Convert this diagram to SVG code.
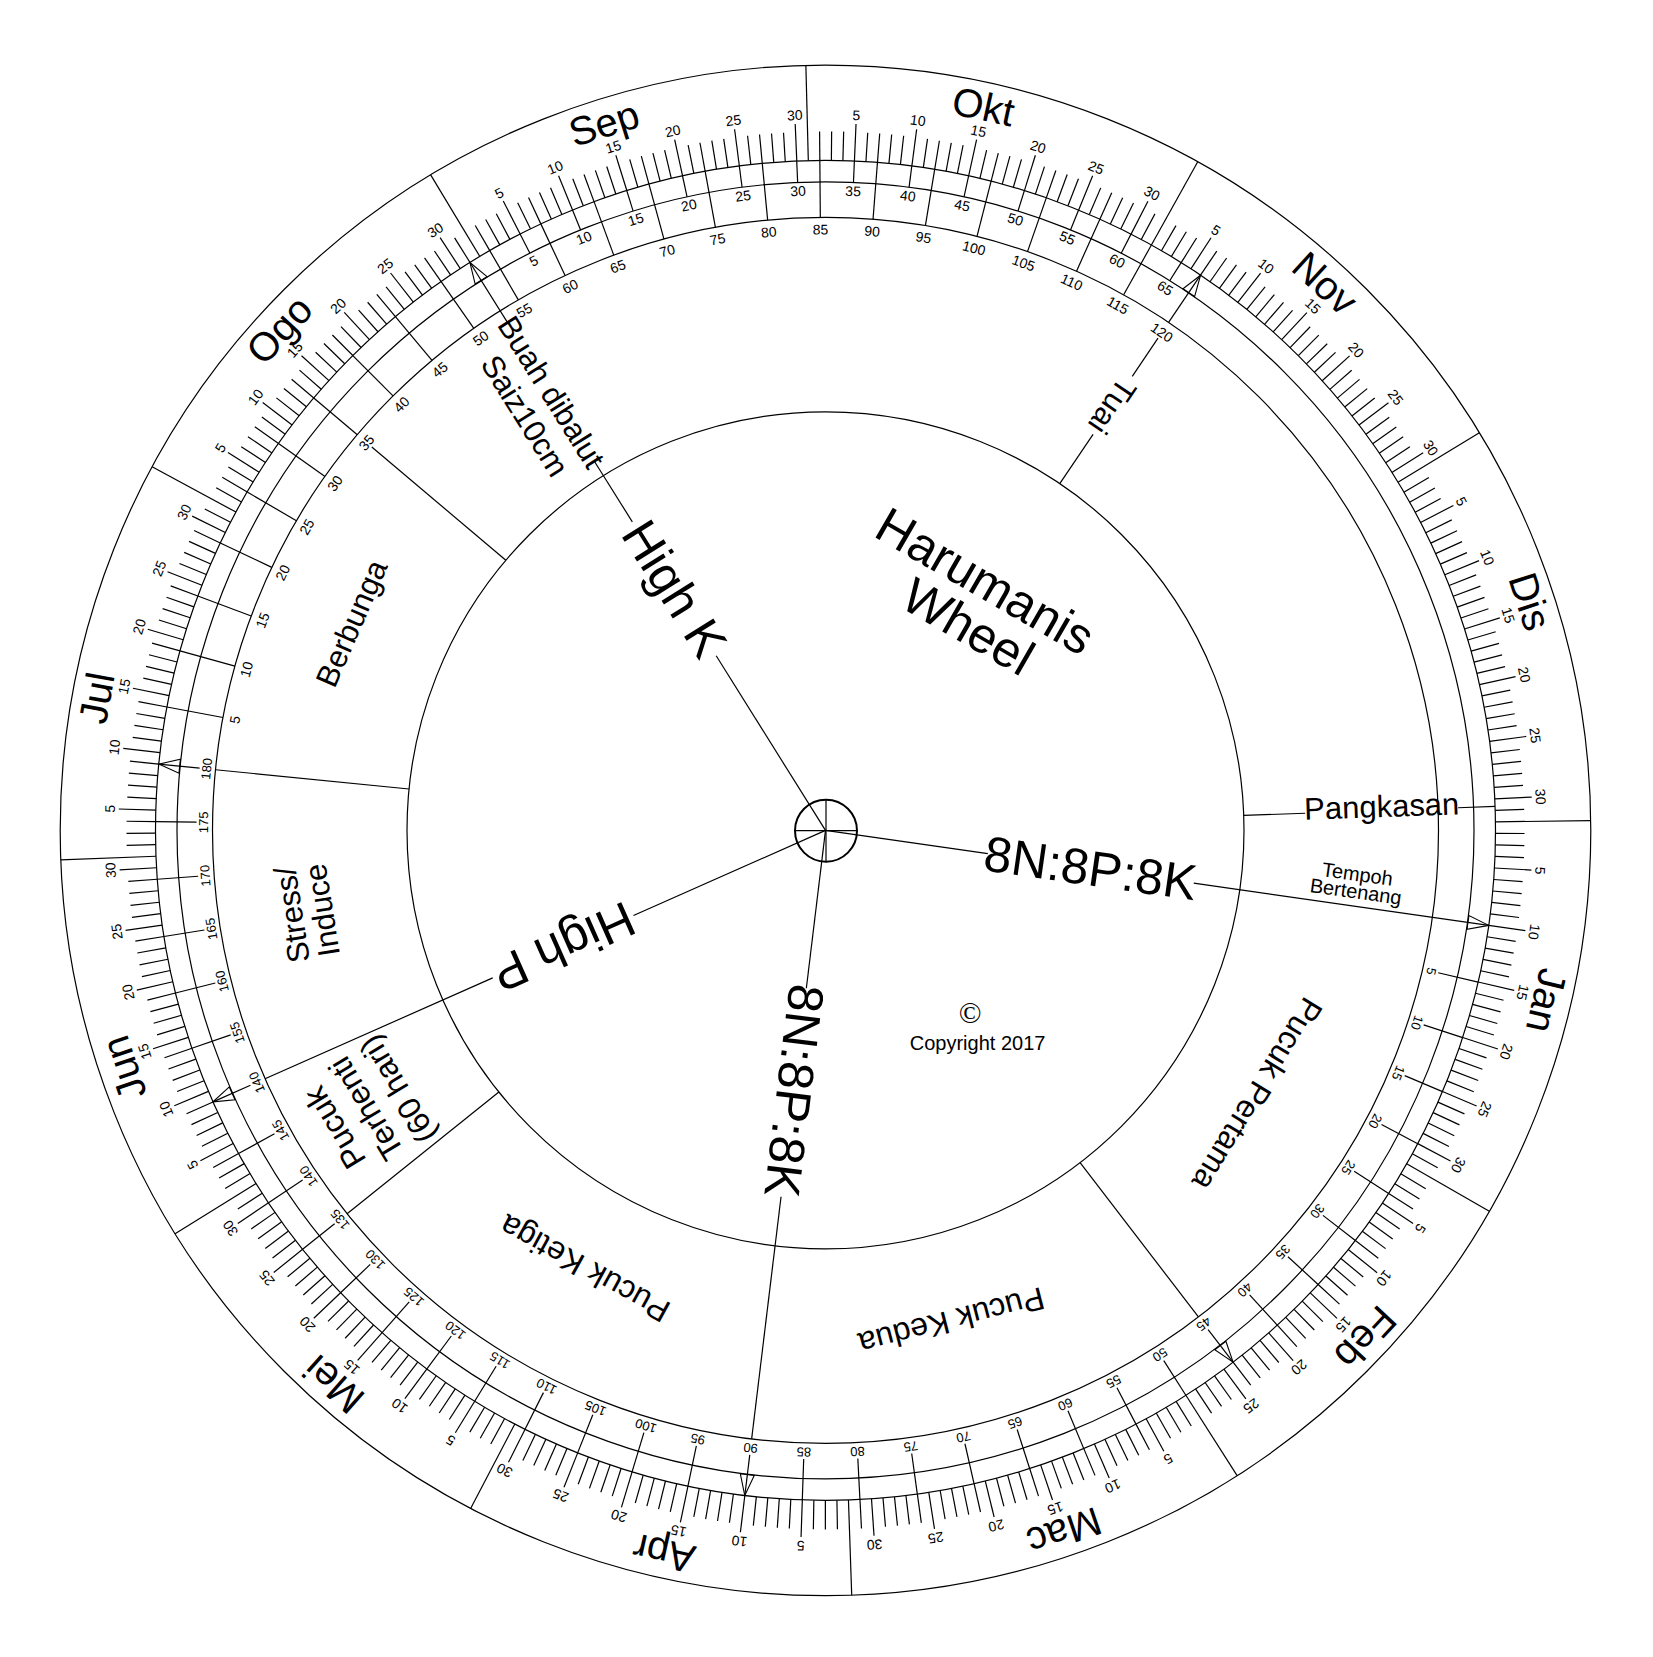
<svg xmlns="http://www.w3.org/2000/svg" width="1653" height="1657" viewBox="0 0 1653 1657">
<style>
.l{stroke:#000;stroke-width:1.2;fill:none}
.a{fill:none;stroke:#000;stroke-width:1.1}
text{font-family:"Liberation Sans",Arial,sans-serif;fill:#000;text-anchor:middle;dominant-baseline:central}
.n{font-size:14px}
.d{font-size:13px}
.m{font-size:40px}
.s{font-size:31px}
.p{font-size:32px}
.b{font-size:50px}
.tb{font-size:20px}
</style>
<defs>
<line id="t" class="l" x1="0" y1="-670" x2="0" y2="-699"/>
<line id="T" class="l" x1="0" y1="-670" x2="0" y2="-707"/>
<line id="mb" class="l" x1="0" y1="-670" x2="0" y2="-765.3"/>
<line id="bl" class="l" x1="0" y1="-648.5" x2="0" y2="-670"/>
<line id="cl" class="l" x1="0" y1="-613" x2="0" y2="-670"/>
<line id="dl" class="l" x1="0" y1="-629" x2="0" y2="-670"/>
<path id="ar" class="a" d="M0,-670 L-7,-649 L7,-649 Z"/>
<g id="m28">
<use href="#mb"/>
<use href="#t" transform="rotate(0.986)"/>
<use href="#t" transform="rotate(1.973)"/>
<use href="#t" transform="rotate(2.959)"/>
<g transform="rotate(3.945)"><use href="#T"/><text class="n" y="-716">5</text></g>
<use href="#t" transform="rotate(4.932)"/>
<use href="#t" transform="rotate(5.918)"/>
<use href="#t" transform="rotate(6.904)"/>
<use href="#t" transform="rotate(7.890)"/>
<g transform="rotate(8.877)"><use href="#T"/><text class="n" y="-716">10</text></g>
<use href="#t" transform="rotate(9.863)"/>
<use href="#t" transform="rotate(10.849)"/>
<use href="#t" transform="rotate(11.836)"/>
<use href="#t" transform="rotate(12.822)"/>
<g transform="rotate(13.808)"><use href="#T"/><text class="n" y="-716">15</text></g>
<use href="#t" transform="rotate(14.795)"/>
<use href="#t" transform="rotate(15.781)"/>
<use href="#t" transform="rotate(16.767)"/>
<use href="#t" transform="rotate(17.753)"/>
<g transform="rotate(18.740)"><use href="#T"/><text class="n" y="-716">20</text></g>
<use href="#t" transform="rotate(19.726)"/>
<use href="#t" transform="rotate(20.712)"/>
<use href="#t" transform="rotate(21.699)"/>
<use href="#t" transform="rotate(22.685)"/>
<g transform="rotate(23.671)"><use href="#T"/><text class="n" y="-716">25</text></g>
<use href="#t" transform="rotate(24.658)"/>
<use href="#t" transform="rotate(25.644)"/>
<use href="#t" transform="rotate(26.630)"/>
</g>
<g id="m30">
<use href="#m28"/>
<use href="#t" transform="rotate(27.616)"/>
<g transform="rotate(28.603)"><use href="#T"/><text class="n" y="-716">30</text></g>
</g>
<g id="m31">
<use href="#m30"/>
<use href="#t" transform="rotate(29.589)"/>
</g>
</defs>
<rect width="1653" height="1657" fill="#fff"/>
<g id="wheel" transform="translate(825.5 830.4)">
<g id="rings">
<circle class="l" r="765.3"/>
<circle class="l" r="670"/>
<circle class="l" r="648.5"/>
<circle class="l" r="613"/>
<circle class="l" r="418.5"/>
</g>
<g id="calendar">
<use href="#m31" transform="rotate(-1.47)"/>
<use href="#m30" transform="rotate(29.105)"/>
<use href="#m31" transform="rotate(58.694)"/>
<use href="#m31" transform="rotate(89.27)"/>
<use href="#m28" transform="rotate(119.845)"/>
<use href="#m31" transform="rotate(147.461)"/>
<use href="#m30" transform="rotate(178.037)"/>
<use href="#m31" transform="rotate(207.626)"/>
<use href="#m30" transform="rotate(238.201)"/>
<use href="#m31" transform="rotate(267.79)"/>
<use href="#m31" transform="rotate(298.366)"/>
<use href="#m30" transform="rotate(328.941)"/>
</g>
<g id="months">
<text class="m" transform="rotate(12.3)" y="-741">Okt</text>
<text class="m" transform="rotate(42.4)" y="-741">Nov</text>
<text class="m" transform="rotate(72.0)" y="-741">Dis</text>
<text class="m" transform="rotate(103.3)" y="-741">Jan</text>
<text class="m" transform="rotate(133.2)" y="-741">Feb</text>
<text class="m" transform="rotate(161.2)" y="-741">Mac</text>
<text class="m" transform="rotate(192.6)" y="-741">Apr</text>
<text class="m" transform="rotate(221.6)" y="-741">Mei</text>
<text class="m" transform="rotate(251.3)" y="-741">Jun</text>
<text class="m" transform="rotate(280.3)" y="-741">Jul</text>
<text class="m" transform="rotate(312.5)" y="-741">Ogo</text>
<text class="m" transform="rotate(342.6)" y="-741">Sep</text>
</g>
<g id="scaleB" transform="rotate(-32.05)">
<g transform="rotate(4.932)"><use href="#bl"/><text class="n" y="-640">5</text></g>
<g transform="rotate(9.863)"><use href="#bl"/><text class="n" y="-640">10</text></g>
<g transform="rotate(14.795)"><use href="#bl"/><text class="n" y="-640">15</text></g>
<g transform="rotate(19.726)"><use href="#bl"/><text class="n" y="-640">20</text></g>
<g transform="rotate(24.658)"><use href="#bl"/><text class="n" y="-640">25</text></g>
<g transform="rotate(29.589)"><use href="#bl"/><text class="n" y="-640">30</text></g>
<g transform="rotate(34.521)"><use href="#bl"/><text class="n" y="-640">35</text></g>
<g transform="rotate(39.452)"><use href="#bl"/><text class="n" y="-640">40</text></g>
<g transform="rotate(44.384)"><use href="#bl"/><text class="n" y="-640">45</text></g>
<g transform="rotate(49.315)"><use href="#bl"/><text class="n" y="-640">50</text></g>
<g transform="rotate(54.247)"><use href="#bl"/><text class="n" y="-640">55</text></g>
<g transform="rotate(59.178)"><use href="#bl"/><text class="n" y="-640">60</text></g>
<g transform="rotate(64.110)"><use href="#bl"/><text class="n" y="-640">65</text></g>
</g>
<g id="scaleC" transform="rotate(275.68)">
<g transform="rotate(4.932)"><use href="#cl"/><text class="n" y="-601">5</text></g>
<g transform="rotate(9.863)"><use href="#cl"/><text class="n" y="-601">10</text></g>
<g transform="rotate(14.795)"><use href="#cl"/><text class="n" y="-601">15</text></g>
<g transform="rotate(19.726)"><use href="#cl"/><text class="n" y="-601">20</text></g>
<g transform="rotate(24.658)"><use href="#cl"/><text class="n" y="-601">25</text></g>
<g transform="rotate(29.589)"><use href="#cl"/><text class="n" y="-601">30</text></g>
<g transform="rotate(34.521)"><use href="#cl"/><text class="n" y="-601">35</text></g>
<g transform="rotate(39.452)"><use href="#cl"/><text class="n" y="-601">40</text></g>
<g transform="rotate(44.384)"><use href="#cl"/><text class="n" y="-601">45</text></g>
<g transform="rotate(49.315)"><use href="#cl"/><text class="n" y="-601">50</text></g>
<g transform="rotate(54.247)"><use href="#cl"/><text class="n" y="-601">55</text></g>
<g transform="rotate(59.178)"><use href="#cl"/><text class="n" y="-601">60</text></g>
<g transform="rotate(64.110)"><use href="#cl"/><text class="n" y="-601">65</text></g>
<g transform="rotate(69.041)"><use href="#cl"/><text class="n" y="-601">70</text></g>
<g transform="rotate(73.973)"><use href="#cl"/><text class="n" y="-601">75</text></g>
<g transform="rotate(78.904)"><use href="#cl"/><text class="n" y="-601">80</text></g>
<g transform="rotate(83.836)"><use href="#cl"/><text class="n" y="-601">85</text></g>
<g transform="rotate(88.767)"><use href="#cl"/><text class="n" y="-601">90</text></g>
<g transform="rotate(93.699)"><use href="#cl"/><text class="n" y="-601">95</text></g>
<g transform="rotate(98.630)"><use href="#cl"/><text class="n" y="-601">100</text></g>
<g transform="rotate(103.562)"><use href="#cl"/><text class="n" y="-601">105</text></g>
<g transform="rotate(108.493)"><use href="#cl"/><text class="n" y="-601">110</text></g>
<g transform="rotate(113.425)"><use href="#cl"/><text class="n" y="-601">115</text></g>
<g transform="rotate(118.356)"><use href="#cl"/><text class="n" y="-601">120</text></g>
</g>
<g id="scaleD" transform="rotate(98.15)">
<g transform="rotate(4.932)"><use href="#dl"/><text class="d" y="-622">5</text></g>
<g transform="rotate(9.863)"><use href="#dl"/><text class="d" y="-622">10</text></g>
<g transform="rotate(14.795)"><use href="#dl"/><text class="d" y="-622">15</text></g>
<g transform="rotate(19.726)"><use href="#dl"/><text class="d" y="-622">20</text></g>
<g transform="rotate(24.658)"><use href="#dl"/><text class="d" y="-622">25</text></g>
<g transform="rotate(29.589)"><use href="#dl"/><text class="d" y="-622">30</text></g>
<g transform="rotate(34.521)"><use href="#dl"/><text class="d" y="-622">35</text></g>
<g transform="rotate(39.452)"><use href="#dl"/><text class="d" y="-622">40</text></g>
<g transform="rotate(44.384)"><use href="#dl"/><text class="d" y="-622">45</text></g>
<g transform="rotate(49.315)"><use href="#dl"/><text class="d" y="-622">50</text></g>
<g transform="rotate(54.247)"><use href="#dl"/><text class="d" y="-622">55</text></g>
<g transform="rotate(59.178)"><use href="#dl"/><text class="d" y="-622">60</text></g>
<g transform="rotate(64.110)"><use href="#dl"/><text class="d" y="-622">65</text></g>
<g transform="rotate(69.041)"><use href="#dl"/><text class="d" y="-622">70</text></g>
<g transform="rotate(73.973)"><use href="#dl"/><text class="d" y="-622">75</text></g>
<g transform="rotate(78.904)"><use href="#dl"/><text class="d" y="-622">80</text></g>
<g transform="rotate(83.836)"><use href="#dl"/><text class="d" y="-622">85</text></g>
<g transform="rotate(88.767)"><use href="#dl"/><text class="d" y="-622">90</text></g>
<g transform="rotate(93.699)"><use href="#dl"/><text class="d" y="-622">95</text></g>
<g transform="rotate(98.630)"><use href="#dl"/><text class="d" y="-622">100</text></g>
<g transform="rotate(103.562)"><use href="#dl"/><text class="d" y="-622">105</text></g>
<g transform="rotate(108.493)"><use href="#dl"/><text class="d" y="-622">110</text></g>
<g transform="rotate(113.425)"><use href="#dl"/><text class="d" y="-622">115</text></g>
<g transform="rotate(118.356)"><use href="#dl"/><text class="d" y="-622">120</text></g>
<g transform="rotate(123.288)"><use href="#dl"/><text class="d" y="-622">125</text></g>
<g transform="rotate(128.219)"><use href="#dl"/><text class="d" y="-622">130</text></g>
<g transform="rotate(133.151)"><use href="#dl"/><text class="d" y="-622">135</text></g>
<g transform="rotate(138.082)"><use href="#dl"/><text class="d" y="-622">140</text></g>
<g transform="rotate(143.014)"><use href="#dl"/><text class="d" y="-622">145</text></g>
<g transform="rotate(147.945)"><use href="#dl"/><text class="d" y="-622">140</text></g>
<g transform="rotate(152.877)"><use href="#dl"/><text class="d" y="-622">155</text></g>
<g transform="rotate(157.808)"><use href="#dl"/><text class="d" y="-622">160</text></g>
<g transform="rotate(162.740)"><use href="#dl"/><text class="d" y="-622">165</text></g>
<g transform="rotate(167.671)"><use href="#dl"/><text class="d" y="-622">170</text></g>
<g transform="rotate(172.603)"><use href="#dl"/><text class="d" y="-622">175</text></g>
<g transform="rotate(177.534)"><use href="#dl"/><text class="d" y="-622">180</text></g>
</g>
<g id="connectors">
<g transform="rotate(-32.05)"><line class="l" x1="0" y1="0" x2="0" y2="-206"/><line class="l" x1="0" y1="-364" x2="0" y2="-435"/><line class="l" x1="0" y1="-600" x2="0" y2="-670"/><use href="#ar"/></g>
<g transform="rotate(275.68)"><line class="l" x1="0" y1="-418.5" x2="0" y2="-613"/><use href="#ar"/></g>
<g transform="rotate(310.2)"><line class="l" x1="0" y1="-418.5" x2="0" y2="-594"/></g>
<g transform="rotate(34.04)"><line class="l" x1="0" y1="-418.5" x2="0" y2="-478"/><line class="l" x1="0" y1="-548" x2="0" y2="-594"/><use href="#ar"/></g>
<g transform="rotate(87.95)"><line class="l" x1="0" y1="-418.5" x2="0" y2="-480"/><line class="l" x1="0" y1="-633" x2="0" y2="-670"/></g>
<g transform="rotate(98.15)"><line class="l" x1="0" y1="0" x2="0" y2="-164"/><line class="l" x1="0" y1="-372" x2="0" y2="-670"/><use href="#ar"/></g>
<g transform="rotate(142.53)"><line class="l" x1="0" y1="-418.5" x2="0" y2="-613"/><use href="#ar"/></g>
<g transform="rotate(186.92)"><line class="l" x1="0" y1="0" x2="0" y2="-159"/><line class="l" x1="0" y1="-369" x2="0" y2="-613"/><use href="#ar"/></g>
<g transform="rotate(231.3)"><line class="l" x1="0" y1="-418.5" x2="0" y2="-613"/></g>
<g transform="rotate(246.1)"><line class="l" x1="0" y1="0" x2="0" y2="-210"/><line class="l" x1="0" y1="-364" x2="0" y2="-613"/><use href="#ar"/></g>
</g>
<g id="stages">
<g transform="rotate(-32.05)">
<text class="b" transform="translate(0,-285) rotate(90)">High K</text>
<g transform="translate(0,-517) rotate(90)"><text class="s">Buah dibalut</text><text class="s" x="6" y="35">Saiz10cm</text></g>
</g>
<text class="s" transform="rotate(34.04) translate(0,-512) rotate(90)">Tuai</text>
<text class="s" transform="translate(556.2,-23.9) rotate(-2)">Pangkasan</text>
<text class="b" transform="rotate(98.15) translate(0,-267.6) rotate(-90)">8N:8P:8K</text>
<text class="b" transform="rotate(186.92) translate(0,-262.2) rotate(-90)">8N:8P:8K</text>
<text class="b" transform="rotate(246.1) translate(0,-286.7) rotate(-90)">High P</text>
<text class="s" transform="rotate(293.6)" y="-517">Berbunga</text>
<g transform="rotate(261)"><text class="s" y="-540">Stress/</text><text class="s" y="-509.5">Induce</text></g>
<g transform="rotate(238.8)"><text class="p" y="-574">Pucuk</text><text class="p" y="-537">Terhenti</text><text class="p" y="-500">(60 hari)</text></g>
<text class="p" transform="rotate(121.4)" y="-506">Pucuk Pertama</text>
<text class="p" transform="rotate(165.6)" y="-506.5">Pucuk Kedua</text>
<text class="p" transform="rotate(208.8)" y="-500">Pucuk Ketiga</text>
</g>
</g>
<g id="hub" transform="translate(826 830.7)">
<circle r="31" fill="none" stroke="#000" stroke-width="2"/>
<line class="l" x1="-31" y1="0" x2="31" y2="0" stroke-width="2"/>
<line class="l" x1="0" y1="-31" x2="0" y2="31"/>
</g>
<g id="title">
<text class="b" transform="translate(985.3 581.3) rotate(30)">Harumanis</text>
<text class="b" transform="translate(968.2 626.8) rotate(30)">Wheel</text>
</g>
<g id="tempoh">
<text class="tb" transform="translate(1357.5 874) rotate(8)">Tempoh</text>
<text class="tb" transform="translate(1355.8 891.4) rotate(8)">Bertenang</text>
</g>
<g id="copyright">
<text x="970.2" y="1012.5" style="font-family:'Liberation Serif',serif;font-size:30px">©</text>
<text x="977.6" y="1043.2" style="font-size:20px">Copyright 2017</text>
</g>
</svg>
